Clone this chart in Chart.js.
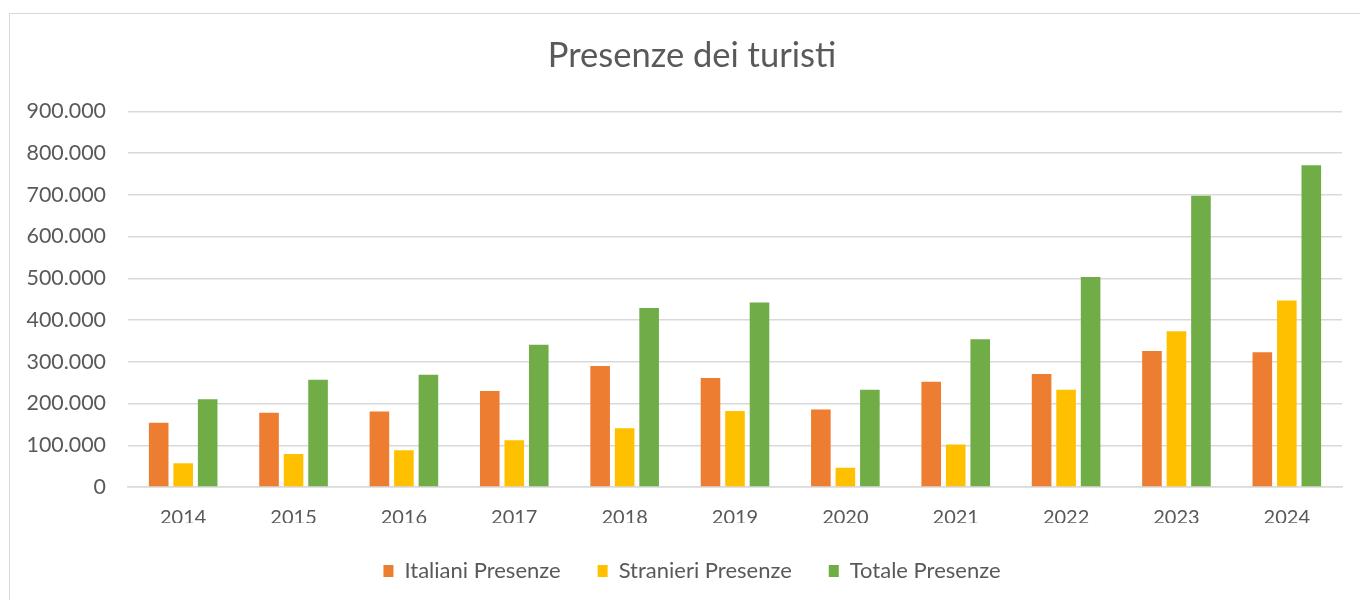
<!DOCTYPE html>
<html>
<head>
<meta charset="utf-8">
<script src="https://cdn.jsdelivr.net/npm/chart.js@4"></script>
<style>
  html, body { margin: 0; padding: 0; background: #fff; overflow: hidden; }
  #wrap { position: relative; width: 1360px; height: 600px; overflow: hidden; }
  #frame { position: absolute; left: 9px; top: 13px; width: 1400px; height: 700px; border: 1px solid #d9d9d9; box-sizing: border-box; }
  canvas { position: absolute; left: 0; top: 0; }
</style>
</head>
<body>
<div id="wrap">
  <div id="frame"></div>
  <canvas id="c" width="1360" height="600"></canvas>
</div>
<script>
const years = ['2014','2015','2016','2017','2018','2019','2020','2021','2022','2023','2024'];
const italiani  = [154000, 178000, 181000, 230000, 290000, 261000, 186000, 252000, 271000, 326000, 323000];
const stranieri = [57000, 79000, 88000, 112000, 141000, 182000, 46000, 102000, 233000, 373000, 447000];
const totale    = [210000, 257000, 269000, 341000, 429000, 442000, 233000, 354000, 503000, 698000, 771000];
const seriesNames = ['Italiani Presenze', 'Stranieri Presenze', 'Totale Presenze'];
const seriesColors = ['#ED7D31', '#FFC000', '#70AD47'];
const yMax = 900000;
const yStep = 100000;
const titleText = 'Presenze dei turisti';

const FONT = 'Lato, "Open Sans", sans-serif';
const TEXT = '#595959';

function fmt(v) {
  return String(v).replace(/\B(?=(\d{3})+(?!\d))/g, '.');
}

new Chart(document.getElementById('c'), {
  type: 'bar',
  data: {
    labels: years,
    datasets: [italiani, stranieri, totale].map((d, i) => ({
      label: seriesNames[i],
      data: d,
      backgroundColor: seriesColors[i],
      borderWidth: 0,
      categoryPercentage: 0.666,
      barPercentage: 0.8
    }))
  },
  options: {
    responsive: false,
    animation: false,
    layout: { padding: { left: 42, right: 18, top: 35, bottom: 8 } },
    plugins: {
      title: {
        display: true,
        text: titleText,
        color: TEXT,
        font: { family: FONT, size: 34.5, weight: 'normal' },
        padding: { top: 0, bottom: 35 }
      },
      legend: {
        position: 'bottom',
        labels: {
          color: TEXT,
          font: { family: FONT, size: 22 },
          boxWidth: 10,
          boxHeight: 12,
          padding: 37
        }
      },
      tooltip: { enabled: false }
    },
    scales: {
      x: {
        grid: { display: false, drawTicks: false },
        border: { display: true, color: '#d9d9d9', width: 1.5 },
        ticks: { color: TEXT, font: { family: FONT, size: 20 }, padding: 18.5 },
        afterFit: (s) => { s.height = 36; }
      },
      y: {
        min: 0,
        max: yMax,
        ticks: { stepSize: yStep, color: TEXT, font: { family: FONT, size: 21.4 }, padding: 22, callback: (v) => fmt(v) },
        grid: { color: '#d9d9d9', lineWidth: 1.5, drawTicks: false },
        border: { display: false },
        afterFit: (s) => {
          s.width = 86;
          // let the tick labels extend into the left padding without being clipped
          s._computeLabelArea = () => undefined;
        }
      }
    }
  }
});
</script>
</body>
</html>
